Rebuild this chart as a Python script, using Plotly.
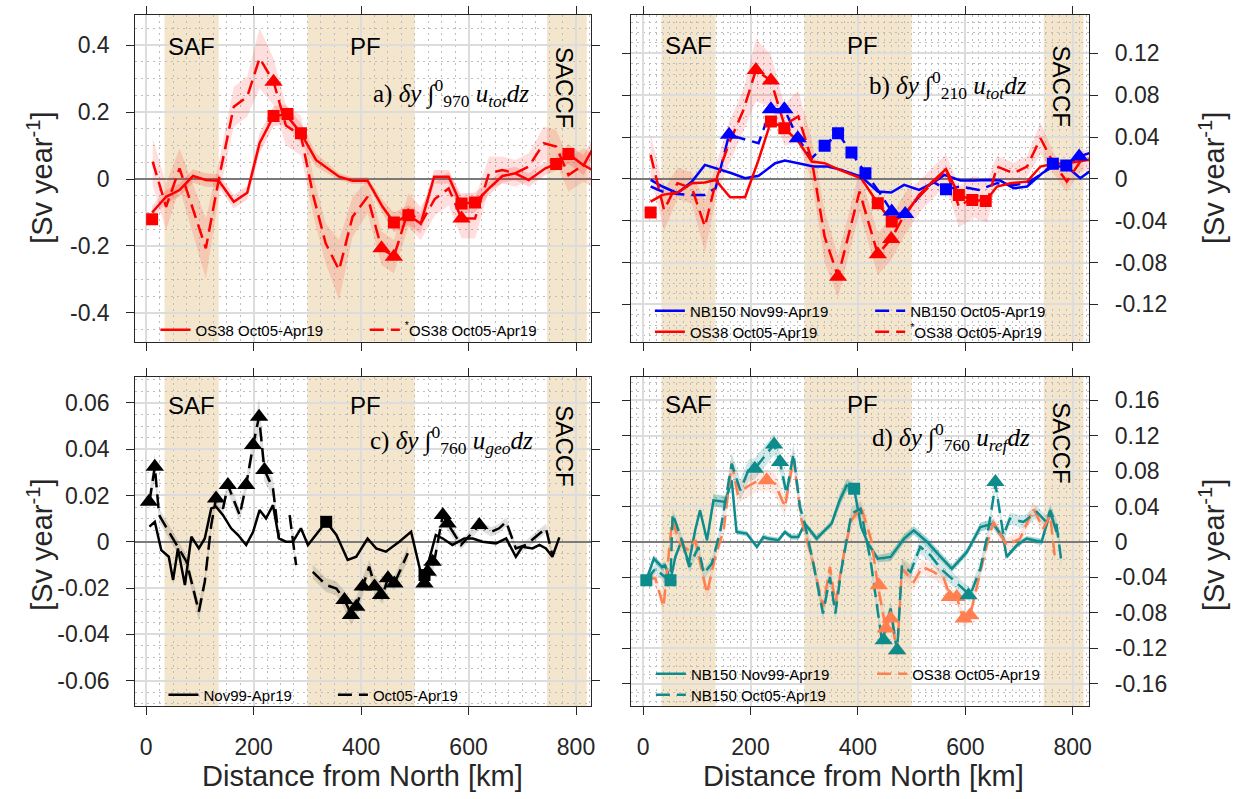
import plotly.graph_objects as go

W, H = 1233, 799
FONT = "Liberation Sans, Arial, Helvetica, sans-serif"
SERIF = "Liberation Serif, DejaVu Serif, serif"
INK = "#262626"
TAN = "#F4E6CC"
RED = "#FF0000"
BLUE = "#0000FF"
TEAL = "#0E8C8C"
CORAL = "#FF7F50"
BLACK = "#000000"

# ---------------- fronts ----------------
front_names = ["SAF", "PF", "SACCF"]
front_start = [34, 300, 746]
front_end = [135, 500, 820]
front_label_x = [85, 409, 779]

# ---------------- panel a : OS38 total transport ----------------
a_sol_x = [11, 37, 62, 87, 111, 135, 163, 188, 211, 237, 260, 288, 316, 359, 384, 412, 440, 461, 488, 511,
           536, 563, 585, 612, 638, 663, 687, 712, 743, 763, 786, 814, 830]
a_sol_y = [-0.10, -0.053, -0.033, 0.009, -0.003, -0.005, -0.068, -0.041, 0.107, 0.188, 0.193, 0.137, 0.057,
           0.007, -0.005, -0.005, -0.083, -0.130, -0.108, -0.133, 0.007, 0.007, -0.073, -0.070, -0.028, 0.009,
           0.017, -0.003, 0.032, 0.045, 0.075, 0.041, 0.087]
a_sol_err = [0.02, 0.02, 0.02, 0.02, 0.02, 0.02, 0.02, 0.02, 0.03, 0.03, 0.03, 0.03, 0.02, 0.01, 0.01, 0.01,
             0.02, 0.03, 0.03, 0.03, 0.02, 0.02, 0.03, 0.03, 0.02, 0.02, 0.02, 0.02, 0.02, 0.02, 0.03, 0.03, 0.03]
a_dash_x = [12, 37, 62, 111, 136, 163, 188, 211, 237, 260, 288, 311, 334, 359, 384, 412, 438, 461, 488, 511,
            537, 563, 587, 612, 638, 663, 687, 712, 740, 763, 786, 814, 830]
a_dash_y = [0.052, -0.083, 0.032, -0.207, 0.007, 0.216, 0.246, 0.361, 0.291, 0.16, 0.13, -0.05, -0.192, -0.272,
            -0.113, -0.053, -0.207, -0.232, -0.093, -0.133, -0.06, -0.028, -0.118, -0.118, 0.017, 0.027, 0.017,
            0.037, 0.107, 0.097, 0.012, 0.042, 0.027]
a_dash_err = [0.07, 0.07, 0.06, 0.09, 0.05, 0.06, 0.06, 0.09, 0.07, 0.06, 0.06, 0.06, 0.06, 0.09, 0.06, 0.05,
              0.05, 0.05, 0.05, 0.05, 0.05, 0.05, 0.06, 0.06, 0.05, 0.04, 0.04, 0.04, 0.05, 0.05, 0.05, 0.05, 0.05]
a_sq_x = [11, 237, 263, 288, 461, 488, 587, 612, 763, 786]
a_sq_y = [-0.12, 0.188, 0.194, 0.137, -0.13, -0.108, -0.073, -0.07, 0.045, 0.075]
a_tri_x = [237, 438, 461, 587]
a_tri_y = [0.291, -0.207, -0.232, -0.118]

# ---------------- panel b : upper 210 m ----------------
b_nbs_x = [14, 36, 64, 91, 115, 141, 165, 190, 215, 246, 264, 289, 317, 344, 369, 406, 437, 462, 486, 514,
           539, 561, 591, 616, 641, 665, 690, 715, 743, 764, 789, 814, 831]
b_nbs_y = [-0.001, -0.0073, -0.0137, -0.0026, 0.0134, 0.0093, 0.0054, 0.0006, 0.0029, 0.015, 0.0175, 0.015,
           0.0118, 0.0118, 0.0086, 0.0022, -0.0121, -0.0131, -0.0057, -0.0105, -0.0041, 0.0038, -0.0016,
           -0.0016, -0.001, -0.0016, -0.0089, -0.0073, 0.0054, 0.0118, 0.0118, 0.0006, 0.007]
b_nbd_x = [14, 36, 64, 91, 115, 135, 160, 215, 238, 263, 288, 314, 338, 363, 388, 414, 437, 463, 488, 514,
           539, 564, 591, 625, 659, 690, 715, 743, 763, 788, 812, 831]
b_nbd_y = [-0.0073, -0.0121, -0.0144, -0.0153, -0.0153, -0.0089, 0.0421, 0.0341, 0.0667, 0.0667, 0.0389,
           0.0198, 0.0316, 0.0437, 0.0252, 0.0054, -0.0105, -0.0313, -0.0335, -0.0169, -0.0026, -0.0099,
           -0.0073, -0.0105, -0.0041, -0.006, -0.004, 0.005, 0.0144, 0.0128, 0.0214, 0.0246]
b_oss_x = [14, 36, 64, 91, 115, 135, 162, 190, 215, 238, 263, 289, 314, 338, 366, 406, 437, 463, 488, 514,
           536, 564, 588, 613, 638, 659, 684, 715, 740, 764, 789, 814, 831]
b_oss_y = [-0.0217, -0.0153, -0.0131, -0.0041, -0.0035, -0.001, -0.0175, -0.0175, 0.0182, 0.0549, 0.0485,
           0.0357, 0.0166, 0.015, 0.0086, 0.0006, -0.0233, -0.0408, -0.0344, -0.0153, -0.0041, 0.0093, -0.0153,
           -0.0201, -0.0211, -0.0073, -0.0041, -0.0026, 0.0118, 0.0144, 0.015, 0.0166, 0.0182]
b_osd_x = [14, 39, 64, 91, 115, 138, 160, 187, 210, 238, 263, 289, 314, 338, 363, 403, 437, 462, 488, 517,
           564, 588, 616, 641, 659, 690, 715, 740, 764, 789, 814, 831]
b_osd_y = [0.023, -0.0297, -0.0041, -0.0089, -0.0456, 0.0022, 0.0341, 0.066, 0.104, 0.094, 0.0517, 0.0597,
           0.0182, -0.0552, -0.0935, -0.0121, -0.0721, -0.0574, -0.0329, -0.0153, 0.0086, -0.0265, -0.0169,
           -0.0217, 0.0118, 0.0054, 0.0118, 0.0389, 0.015, -0.0026, 0.0166, 0.0182]
b_osd_err = [0.02, 0.02, 0.015, 0.015, 0.025, 0.015, 0.02, 0.02, 0.03, 0.025, 0.02, 0.025, 0.02, 0.025, 0.02,
             0.02, 0.02, 0.02, 0.02, 0.015, 0.015, 0.02, 0.02, 0.02, 0.01, 0.01, 0.01, 0.015, 0.01, 0.01, 0.01, 0.01]
b_blue_tri_x = [160, 238, 263, 288, 463, 488, 812]
b_blue_tri_y = [0.0421, 0.0667, 0.0667, 0.0389, -0.0313, -0.0335, 0.0214]
b_blue_sq_x = [338, 363, 388, 414, 564, 763, 788]
b_blue_sq_y = [0.0316, 0.0437, 0.0252, 0.0054, -0.0099, 0.0144, 0.0128]
b_red_sq_x = [14, 238, 263, 437, 463, 588, 613, 638]
b_red_sq_y = [-0.0322, 0.0549, 0.0485, -0.0233, -0.0408, -0.0153, -0.0201, -0.0211]
b_red_tri_x = [210, 238, 363, 437, 462]
b_red_tri_y = [0.104, 0.094, -0.0935, -0.0721, -0.0574]

# ---------------- panel c : geostrophic ----------------
c_sol_x = [6, 16, 28, 42, 50, 59, 72, 84, 98, 109, 121, 130, 143, 158, 171, 186, 199, 211, 223, 236, 247, 260,
           273, 288, 301, 316, 335, 354, 375, 391, 412, 428, 446, 471, 493, 512, 524, 539, 552, 570, 592, 608,
           626, 651, 670, 688, 700, 719, 732, 744, 756, 769]
c_sol_y = [0.0065, 0.0086, -0.0036, -0.0065, -0.0166, -0.0029, -0.0187, 0.0022, -0.0029, 0.0014, 0.0144,
           0.0151, 0.0115, 0.0058, 0.0029, -0.0014, 0.0043, 0.0137, 0.0101, 0.0158, 0.0014, 0, 0, 0.0058,
           -0.0014, 0.0029, 0.0086, 0.0029, -0.0079, -0.0065, 0.0014, -0.0029, -0.0043, 0, 0.0043, -0.0144,
           -0.0101, 0.0029, 0.0014, -0.0014, 0.0014, 0.0014, 0, -0.0007, 0.0014, -0.0065, -0.0022, -0.0029,
           -0.0014, -0.0029, -0.0065, 0.0019]
c_dash_x = [6, 16, 24, 75, 98, 109, 121, 130, 143, 152, 174, 186, 199, 210, 220, 236, 247, None, 267, 279,
            None, 310, 335, 354, 369, 381, 391, 403, 415, 425, 440, 450, 462, 487, None, 518, 527, 536, 552, 561,
            586, 620, 642, 657, 670, 688, 707, 744, 756]
c_dash_y = [0.0173, 0.0324, 0.0115, -0.0086, -0.0302, -0.0173, 0.0072, 0.0187, 0.0144, 0.0245, 0.0115, 0.0245,
            0.0418, 0.054, 0.031, 0.023, 0.0014, None, 0.0115, -0.0101, None, -0.013, -0.0187, -0.0202, -0.0252,
            -0.031, -0.0281, -0.0194, -0.0108, -0.0187, -0.023, -0.0158, -0.018, -0.005, None, -0.0173, -0.0108,
            -0.0086, 0.0115, 0.0079, -0.0014, 0.0072, 0.0043, 0.0058, 0.0086, -0.0029, -0.0014, 0.0058, -0.0058]
c_dash_err = [0.004, 0.006, 0.003, 0.003, 0.004, 0.003, 0.003, 0.003, 0.003, 0.003, 0.003, 0.003, 0.005, 0.008,
              0.005, 0.004, 0.003, None, 0.003, 0.003, None, 0.003, 0.003, 0.003, 0.004, 0.005, 0.004, 0.004,
              0.003, 0.004, 0.004, 0.003, 0.003, 0.003, None, 0.003, 0.003, 0.003, 0.003, 0.003, 0.002, 0.002,
              0.002, 0.002, 0.002, 0.002, 0.002, 0.002, 0.002]
c_tri_x = [5, 16, 130, 152, 186, 199, 210, 220, 369, 381, 391, 403, 425, 437, 450, 462, 518, 524, 533, 552, 561, 620]
c_tri_y = [0.0173, 0.0324, 0.0187, 0.0245, 0.0245, 0.0418, 0.054, 0.031, -0.0252, -0.0317, -0.0281, -0.0194,
           -0.0194, -0.023, -0.0158, -0.018, -0.018, -0.013, -0.0086, 0.0115, 0.0079, 0.0072]
c_sq_x = [335, 518]
c_sq_y = [0.0086, -0.0144]

# ---------------- panel d : reference velocity ----------------
d_nbs_x = [6, 20, 35, 41, 51, 60, 72, 85, 97, 106, 119, 131, 153, 165, 174, 193, 212, 224, 233, 252, 264, 276,
           289, 301, 323, 338, 351, 366, 379, 393, 406, 419, 437, 461, 486, 504, 529, 554, 575, 603, 628, 652,
           671, 677, 696, 714, 742, 758, 770]
d_nbs_y = [-0.0432, -0.0188, -0.0282, -0.0263, -0.0432, -0.0169, 0.0019, -0.0244, 0.0131, 0.0357, 0.0019,
           0.0469, 0.0451, 0.0695, 0.0113, 0.0094, -0.0056, 0.0056, 0.0038, 0.0019, 0.0113, 0.0056, 0.0056,
           0.0207, 0.0038, 0.0131, 0.0207, 0.0469, 0.0638, 0.0601, 0.0169, -0.0019, -0.0188, -0.0169, 0.0038,
           0.0131, 0, -0.0169, -0.03, -0.0113, 0.0169, 0.0207, 0.0038, -0.0169, -0.0038, 0.0038, 0, 0.0338, 0.0113]
d_nbs_err = [0.004, 0.004, 0.004, 0.004, 0.004, 0.003, 0.003, 0.003, 0.003, 0.003, 0.003, 0.007, 0.007, 0.004,
             0.003, 0.003, 0.003, 0.003, 0.003, 0.003, 0.003, 0.003, 0.003, 0.003, 0.004, 0.003, 0.004, 0.007,
             0.007, 0.006, 0.004, 0.003, 0.004, 0.005, 0.005, 0.005, 0.005, 0.005, 0.004, 0.004, 0.005, 0.005,
             0.004, 0.003, 0.003, 0.003, 0.004, 0.006, 0.006]
d_nbd_x = [6, 23, 40, 51, 55, 72, 86, 103, 113, 128, 144, 165, 181, 196, 208, 244, 255, 267, 280, 292, 301, 317,
           335, 348, 358, 369, 388, 405, 424, 445, 461, 473, 482, 498, 516, 535, 554, 575, 609, 628, 640, 652,
           656, 671, 683, 708, 733, 751, 758, 770, 779]
d_nbd_y = [-0.0432, -0.03, -0.0394, -0.0432, 0.0319, 0.0019, -0.0282, -0.0056, -0.0357, -0.0244, 0.0131,
           0.0883, 0.0582, 0.0808, 0.0826, 0.11, 0.0901, 0.0545, 0.0995, 0.0394, 0.0207, -0.0244, -0.0808,
           -0.0394, -0.0808, -0.0319, 0.0319, 0.0376, -0.0225, -0.1127, -0.0751, -0.1239, -0.0263, -0.0338,
           -0.0056, -0.015, -0.03, -0.0413, -0.0601, -0.03, 0.0038, 0.0488, 0.0657, 0.0075, 0.0263, 0.0225,
           0.0338, 0.0225, 0.0357, 0.0188, -0.0225]
d_nbd_err = [0.006, 0.006, 0.006, 0.006, 0.006, 0.006, 0.006, 0.006, 0.006, 0.006, 0.006, 0.012, 0.012, 0.012,
             0.012, 0.012, 0.012, 0.012, 0.012, 0.012, 0.008, 0.008, 0.008, 0.008, 0.008, 0.008, 0.008, 0.008,
             0.008, 0.008, 0.008, 0.008, 0.008, 0.008, 0.008, 0.008, 0.008, 0.008, 0.008, 0.008, 0.007, 0.007,
             0.007, 0.007, 0.007, 0.007, 0.007, 0.007, 0.007, 0.007, 0.007]
d_osd_x = [6, 23, 38, 54, 69, 85, 97, 110, 119, 134, 150, 165, 176, 193, 215, 230, 246, 264, 280, 295, 317, 335,
           348, 358, 375, 388, 406, 425, 437, 452, 461, 473, 482, 504, 520, 541, 560, 572, 584, 597, 609, 628,
           640, 652, 677, 702, 727, 745, 758, 767]
d_osd_y = [-0.0413, -0.0413, -0.0732, 0.0244, -0.0019, -0.0094, 0.0019, -0.0357, -0.0582, -0.0169, 0.0131,
           0.0883, 0.0545, 0.062, 0.0695, 0.0695, 0.0657, 0.0394, 0.0939, 0.0244, -0.0244, -0.0732, -0.0282,
           -0.0695, -0.0094, 0.0244, 0.0394, 0.0019, -0.0488, -0.0977, -0.0826, -0.1239, -0.03, -0.0451,
           -0.0282, -0.0338, -0.0413, -0.062, -0.062, -0.0883, -0.0826, -0.0338, -0.0038, 0.0225, -0.0038,
           0.0038, 0.0376, 0.015, 0.03, -0.0188]
d_osd_err = [0.008, 0.008, 0.008, 0.008, 0.008, 0.008, 0.008, 0.008, 0.008, 0.008, 0.008, 0.012, 0.012, 0.012,
             0.012, 0.012, 0.012, 0.012, 0.012, 0.008, 0.008, 0.008, 0.008, 0.008, 0.008, 0.008, 0.008, 0.008,
             0.01, 0.01, 0.01, 0.01, 0.01, 0.01, 0.008, 0.008, 0.008, 0.008, 0.008, 0.008, 0.008, 0.008, 0.008,
             0.008, 0.008, 0.008, 0.008, 0.008, 0.008, 0.008]
d_teal_tri_x = [208, 244, 255, 448, 473, 606, 656]
d_teal_tri_y = [0.0826, 0.11, 0.0901, -0.1108, -0.122, -0.0601, 0.0676]
d_teal_sq_x = [6, 51, 393]
d_teal_sq_y = [-0.0432, -0.0432, 0.0601]
d_coral_tri_x = [230, 439, 452, 461, 473, 571, 584, 597, 609]
d_coral_tri_y = [0.0695, -0.0488, -0.0977, -0.0864, -0.122, -0.062, -0.062, -0.0864, -0.0826]

# ---------------- figure ----------------
AX = {"a": ("x", "y"), "b": ("x2", "y2"), "c": ("x3", "y3"), "d": ("x4", "y4")}
DASH = "14px,7px"
fig = go.Figure()


def band(panel, xs, ys, errs, color):
    xa, ya = AX[panel]
    seg = []
    segs = []
    for x, y, e in zip(xs, ys, errs):
        if x is None or y is None:
            if seg:
                segs.append(seg)
            seg = []
        else:
            seg.append((x, y, e))
    if seg:
        segs.append(seg)
    for s in segs:
        px = [p[0] for p in s] + [p[0] for p in s[::-1]]
        py = [p[1] + p[2] for p in s] + [p[1] - p[2] for p in s[::-1]]
        fig.add_trace(go.Scatter(x=px, y=py, fill="toself", fillcolor=color, mode="none",
                                 hoverinfo="skip", showlegend=False, xaxis=xa, yaxis=ya))


def line(panel, xs, ys, color, dash="solid", name=None, legend=None):
    xa, ya = AX[panel]
    fig.add_trace(go.Scatter(x=xs, y=ys, mode="lines", line=dict(color=color, width=2.5, dash=dash),
                             name=name, showlegend=name is not None, legend=legend,
                             connectgaps=False, xaxis=xa, yaxis=ya))


def marks(panel, xs, ys, color, symbol, size):
    xa, ya = AX[panel]
    fig.add_trace(go.Scatter(x=xs, y=ys, mode="markers", marker=dict(symbol=symbol, size=size, color=color,
                                                                      line=dict(width=0)),
                             showlegend=False, xaxis=xa, yaxis=ya))


# bands
band("a", a_dash_x, a_dash_y, a_dash_err, "rgba(255,0,0,0.13)")
band("a", a_sol_x, a_sol_y, a_sol_err, "rgba(255,0,0,0.16)")
band("b", b_osd_x, b_osd_y, b_osd_err, "rgba(255,0,0,0.13)")
band("c", c_dash_x, c_dash_y, c_dash_err, "rgba(0,0,0,0.12)")
band("d", d_nbd_x, d_nbd_y, d_nbd_err, "rgba(14,140,140,0.18)")
band("d", d_osd_x, d_osd_y, d_osd_err, "rgba(255,127,80,0.16)")
band("d", d_nbs_x, d_nbs_y, d_nbs_err, "rgba(14,140,140,0.35)")

# lines
line("a", a_sol_x, a_sol_y, RED, "solid", "OS38 Oct05-Apr19", "legend")
line("a", a_dash_x, a_dash_y, RED, DASH, "<sup>*</sup>OS38 Oct05-Apr19", "legend2")
line("b", b_nbs_x, b_nbs_y, BLUE, "solid", "NB150 Nov99-Apr19", "legend3")
line("b", b_nbd_x, b_nbd_y, BLUE, DASH, "NB150 Oct05-Apr19", "legend4")
line("b", b_oss_x, b_oss_y, RED, "solid", "OS38 Oct05-Apr19", "legend5")
line("b", b_osd_x, b_osd_y, RED, DASH, "<sup>*</sup>OS38 Oct05-Apr19", "legend6")
line("c", c_sol_x, c_sol_y, BLACK, "solid", "Nov99-Apr19", "legend7")
line("c", c_dash_x, c_dash_y, BLACK, DASH, "Oct05-Apr19", "legend8")
line("d", d_nbs_x, d_nbs_y, TEAL, "solid", "NB150 Nov99-Apr19", "legend9")
line("d", d_osd_x, d_osd_y, CORAL, DASH, "OS38 Oct05-Apr19", "legend10")
line("d", d_nbd_x, d_nbd_y, TEAL, DASH, "NB150 Oct05-Apr19", "legend11")

# markers
marks("a", a_sq_x, a_sq_y, RED, "square", 12)
marks("a", a_tri_x, a_tri_y, RED, "triangle-up", 16)
marks("b", b_blue_sq_x, b_blue_sq_y, BLUE, "square", 12)
marks("b", b_red_sq_x, b_red_sq_y, RED, "square", 12)
marks("b", b_blue_tri_x, b_blue_tri_y, BLUE, "triangle-up", 16)
marks("b", b_red_tri_x, b_red_tri_y, RED, "triangle-up", 16)
marks("c", c_sq_x, c_sq_y, BLACK, "square", 12)
marks("c", c_tri_x, c_tri_y, BLACK, "triangle-up", 16)
marks("d", d_teal_sq_x, d_teal_sq_y, TEAL, "square", 12)
marks("d", d_coral_tri_x, d_coral_tri_y, CORAL, "triangle-up", 16)
marks("d", d_teal_tri_x, d_teal_tri_y, TEAL, "triangle-up", 16)

# ---------------- axes ----------------
XDOM_L = [135.7 / W, 593.3 / W]
XDOM_R = [633.5 / W, 1092.7 / W]
YDOM_T = [1 - 341.7 / H, 1 - 14.7 / H]
YDOM_B = [1 - 706 / H, 1 - 377 / H]

x_ticks = [0, 200, 400, 600, 800]
ya_ticks = [-0.4, -0.2, 0, 0.2, 0.4]
yb_ticks = [-0.12, -0.08, -0.04, 0, 0.04, 0.08, 0.12]
yc_ticks = [-0.06, -0.04, -0.02, 0, 0.02, 0.04, 0.06]
yd_ticks = [-0.16, -0.12, -0.08, -0.04, 0, 0.04, 0.08, 0.12, 0.16]


def fmt(v):
    return "%g" % v


common = dict(ticks="outside", ticklen=8, tickwidth=1, tickcolor=INK, showline=True, linecolor=INK,
              linewidth=1, mirror="ticks", showgrid=True, gridcolor="#dcdcdc", gridwidth=1.5,
              tickfont=dict(family=FONT, size=23, color=INK))
MINOR_GRID = "#bdbdbd"


def xcfg(dom, rng, anchor, minor_dt, labels):
    d = dict(common)
    d.update(domain=dom, range=rng, anchor=anchor, tickmode="array", tickvals=x_ticks,
             ticktext=[fmt(v) for v in x_ticks], zeroline=False, showticklabels=labels,
             ticklabelstandoff=12,
             minor=dict(tickmode="linear", tick0=0, dtick=minor_dt, showgrid=True, gridcolor=MINOR_GRID,
                        griddash="2px,4px", gridwidth=1, ticks=""))
    return d


def ycfg(dom, rng, anchor, ticks, minor_dt, side):
    d = dict(common)
    d.update(domain=dom, range=rng, anchor=anchor, side=side, tickmode="array", tickvals=ticks,
             ticktext=[fmt(v) for v in ticks], zeroline=True, zerolinecolor="#7a7a7a", zerolinewidth=1.5,
             ticklabelstandoff=12,
             minor=dict(tickmode="linear", tick0=0, dtick=minor_dt, showgrid=True, gridcolor=MINOR_GRID,
                        griddash="2px,4px", gridwidth=1, ticks=""))
    return d


fig.update_layout(
    xaxis=xcfg(XDOM_L, [-20.4, 828.6], "y", 25, False),
    xaxis2=xcfg(XDOM_R, [-21.7, 830.6], "y2", 12.5, False),
    xaxis3=xcfg(XDOM_L, [-20.4, 828.6], "y3", 25, True),
    xaxis4=xcfg(XDOM_R, [-21.7, 830.6], "y4", 12.5, True),
    yaxis=ycfg(YDOM_T, [-0.486, 0.491], "x", ya_ticks, 0.05, "left"),
    yaxis2=ycfg(YDOM_T, [-0.1557, 0.157], "x2", yb_ticks, 0.01, "right"),
    yaxis3=ycfg(YDOM_B, [-0.071, 0.0712], "x3", yc_ticks, 0.005, "left"),
    yaxis4=ycfg(YDOM_B, [-0.185, 0.186], "x4", yd_ticks, 0.01, "right"),
)

# front bands and labels
shapes = []
annotations = []
label_y = {"a": 0.902, "b": 0.905, "c": 0.912, "d": 0.915}
saccf_y = {"a": 0.777, "b": 0.782, "c": 0.79, "d": 0.80}
for p, (xa, ya) in AX.items():
    for nm, s, e, lx in zip(front_names, front_start, front_end, front_label_x):
        shapes.append(dict(type="rect", xref=xa, yref=ya + " domain", x0=s, x1=e, y0=0, y1=1,
                           fillcolor=TAN, line=dict(width=0), layer="below"))
        if nm == "SACCF":
            annotations.append(dict(text=nm, x=lx, y=saccf_y[p], xref=xa, yref=ya + " domain",
                                    xanchor="center", yanchor="middle", showarrow=False, textangle=90,
                                    font=dict(family=FONT, size=24, color="black")))
        else:
            annotations.append(dict(text=nm, x=lx, y=label_y[p], xref=xa, yref=ya + " domain",
                                    xanchor="center", yanchor="middle", showarrow=False,
                                    font=dict(family=FONT, size=24, color="black")))

# panel formulas
formulas = [
    ("a) <i>δy</i> ∫<sup>0</sup><sub>970</sub> <i>u<sub>tot</sub>dz</i>", 452, 93),
    ("b) <i>δy</i> ∫<sup>0</sup><sub>210</sub> <i>u<sub>tot</sub>dz</i>", 951, 85),
    ("c) <i>δy</i> ∫<sup>0</sup><sub>760</sub> <i>u<sub>geo</sub>dz</i>", 453, 440),
    ("d) <i>δy</i> ∫<sup>0</sup><sub>760</sub> <i>u<sub>ref</sub>dz</i>", 954, 437),
]
for t, fx, fy in formulas:
    annotations.append(dict(text=t, x=fx / W, y=1 - fy / H, xref="paper", yref="paper", showarrow=False,
                            xanchor="center", yanchor="middle",
                            font=dict(family=SERIF, size=25, color="black")))

# axis titles
ytitle = "[Sv year<sup>-1</sup>]"
for fx, fy in [(40, 178), (40, 545), (1216, 178), (1216, 545)]:
    annotations.append(dict(text=ytitle, x=fx / W, y=1 - fy / H, xref="paper", yref="paper",
                            xanchor="center", yanchor="middle",
                            showarrow=False, textangle=-90, font=dict(family=FONT, size=29, color=INK)))
for fx in [364, 866]:
    annotations.append(dict(text="Distance from North [km]", x=fx / W, y=1 - 776 / H, xref="paper",
                            yref="paper", xanchor="center", yanchor="middle", showarrow=False,
                            font=dict(family=FONT, size=29, color=INK)))


def leg(text_x, y_px):
    return dict(x=(text_x - 42) / W, y=1 - y_px / H, xanchor="left", yanchor="middle",
                bgcolor="rgba(0,0,0,0)", borderwidth=0, font=dict(family=FONT, size=15, color="black"))


fig.update_layout(
    legend=leg(198, 330), legend2=leg(408, 330),
    legend3=leg(694, 311), legend4=leg(915, 311),
    legend5=leg(694, 332), legend6=leg(915, 332),
    legend7=leg(206, 695), legend8=leg(376, 695),
    legend9=leg(695, 674), legend10=leg(917, 674),
    legend11=leg(695, 695),
)

fig.update_layout(width=W, height=H, margin=dict(l=0, r=0, t=0, b=0), paper_bgcolor="white",
                  plot_bgcolor="white", shapes=shapes, annotations=annotations)

fig.write_html("out.html")
